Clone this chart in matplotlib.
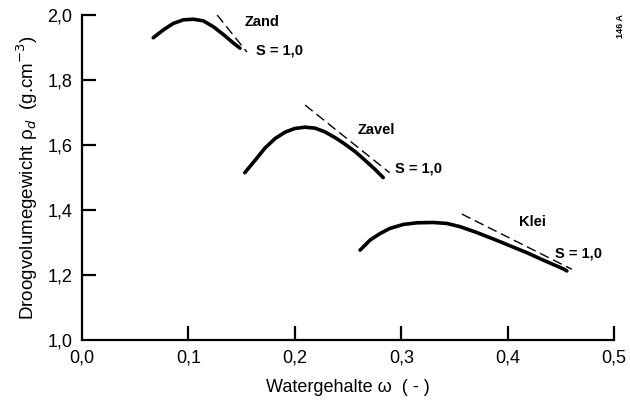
import matplotlib
matplotlib.use("Agg")
import matplotlib.pyplot as plt

plt.rcParams['font.family'] = ['Liberation Sans', 'DejaVu Sans']

# Proctor curves: water content (-) vs dry bulk density (g/cm3)
zand_w = [0.067, 0.0764, 0.0858, 0.0952, 0.1046, 0.1140, 0.1234, 0.1328, 0.1422, 0.1485]
zand_rho = [1.930, 1.954, 1.974, 1.985, 1.987, 1.982, 1.964, 1.940, 1.914, 1.898]

zavel_w = [0.153, 0.1626, 0.172, 0.1814, 0.191, 0.200, 0.2096, 0.219, 0.228, 0.2378,
           0.247, 0.2566, 0.266, 0.2754, 0.283]
zavel_rho = [1.515, 1.553, 1.591, 1.620, 1.640, 1.651, 1.655, 1.652, 1.641, 1.623,
             1.603, 1.580, 1.553, 1.525, 1.500]

klei_w = [0.2613, 0.2707, 0.280, 0.2895, 0.302, 0.3146, 0.330, 0.3428, 0.3553, 0.371,
          0.3866, 0.4023, 0.418, 0.4335, 0.4524, 0.4555]
klei_rho = [1.277, 1.308, 1.328, 1.344, 1.356, 1.361, 1.362, 1.359, 1.349, 1.331,
            1.311, 1.290, 1.269, 1.246, 1.219, 1.213]

# Saturation lines (S = 1,0)
zand_sat_w = [0.127, 0.155]
zand_sat_rho = [2.000, 1.886]
zavel_sat_w = [0.2096, 0.289]
zavel_sat_rho = [1.723, 1.515]
klei_sat_w = [0.3568, 0.4602]
klei_sat_rho = [1.388, 1.218]

xticks = [0.0, 0.1, 0.2, 0.3, 0.4, 0.5]
xticklabels = ['0,0', '0,1', '0,2', '0,3', '0,4', '0,5']
yticks = [1.0, 1.2, 1.4, 1.6, 1.8, 2.0]
yticklabels = ['1,0', '1,2', '1,4', '1,6', '1,8', '2,0']

fig = plt.figure(figsize=(6.3, 4.05), dpi=100)
ax = fig.add_axes([0.130, 0.160, 0.845, 0.803])

for w, r in [(zand_w, zand_rho), (zavel_w, zavel_rho), (klei_w, klei_rho)]:
    ax.plot(w, r, color='black', lw=2.6, solid_capstyle='round', solid_joinstyle='round')
for w, r in [(zand_sat_w, zand_sat_rho), (zavel_sat_w, zavel_sat_rho), (klei_sat_w, klei_sat_rho)]:
    ax.plot(w, r, color='black', lw=1.0, ls=(0, (7, 3.5)))

lfs = 10.5
ax.text(0.153, 1.978, 'Zand', fontsize=lfs, fontweight='bold', va='center')
ax.text(0.1635, 1.892, 'S = 1,0', fontsize=lfs, fontweight='bold', va='center')
ax.text(0.259, 1.646, 'Zavel', fontsize=lfs, fontweight='bold', va='center')
ax.text(0.294, 1.529, 'S = 1,0', fontsize=lfs, fontweight='bold', va='center')
ax.text(0.411, 1.363, 'Klei', fontsize=lfs, fontweight='bold', va='center')
ax.text(0.4445, 1.268, 'S = 1,0', fontsize=lfs, fontweight='bold', va='center')

fs = 13
ax.set_xlim(0, 0.5)
ax.set_ylim(1.0, 2.0)
ax.set_xticks(xticks)
ax.set_xticklabels(xticklabels, fontsize=fs)
ax.set_yticks(yticks)
ax.set_yticklabels(yticklabels, fontsize=fs)
ax.tick_params(direction='in', length=10, width=1.6, pad=7)
ax.spines['top'].set_visible(False)
ax.spines['right'].set_visible(False)
ax.spines['left'].set_linewidth(1.6)
ax.spines['bottom'].set_linewidth(1.6)
ax.xaxis.get_major_ticks()[0].tick1line.set_visible(False)
ax.yaxis.get_major_ticks()[0].tick1line.set_visible(False)

ax.set_xlabel('Watergehalte ω  ( - )', fontsize=fs, labelpad=9)
ax.set_ylabel('Droogvolumegewicht ρ$_d$  (g.cm$^{-3}$)', fontsize=fs + 0.5, labelpad=5)

fig.text(0.985, 0.935, '146 A', rotation=90, fontsize=6.5, fontweight='bold', ha='center', va='center')

fig.savefig('out.png', dpi=100, facecolor='white')
